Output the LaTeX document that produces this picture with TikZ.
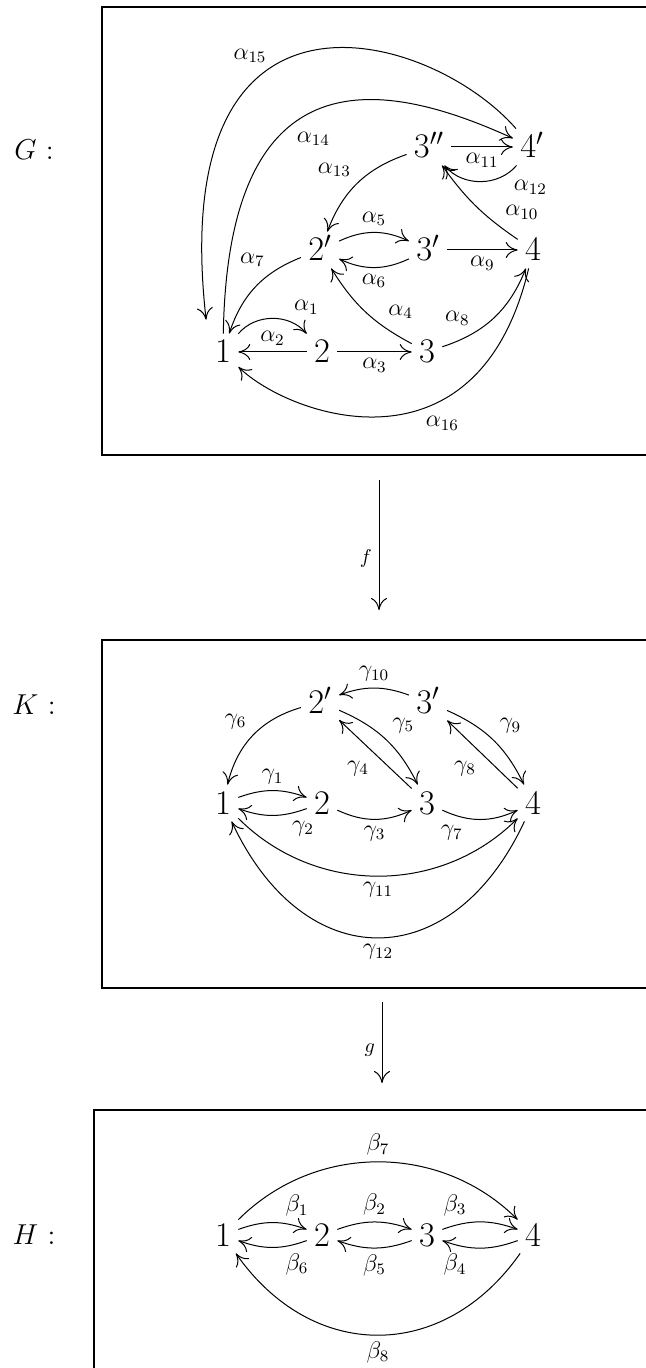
\documentclass[tikz,border=0pt]{standalone}
\usepackage{amsmath}
\usepackage{amssymb}
\usepackage{tikz}
\usetikzlibrary{arrows.meta}

\begin{document}
\begin{tikzpicture}[x=0.5pt,y=-0.5pt,
    vtx/.style={font=\LARGE, inner sep=3.5pt, text height=11pt, text depth=0pt},
    lbl/.style={font=\large, inner sep=3pt},
    side/.style={font=\Large},
    arr/.style={-{To[length=6pt,width=8pt]}, line width=0.5pt},
    frame/.style={line width=0.6pt}]
        \useasboundingbox (0,0) rectangle (646,1368);
        % G
        \draw[frame] (646,7)--(102,7)--(102,455)--(646,455);
        \node[side] (gname) at (34,150) {$G$ :};
        \node[vtx] (g1) at (223,352) {$1$};
        \node[vtx] (g2) at (322,352) {$2$};
        \node[vtx] (g3) at (427,352) {$3$};
        \node[vtx] (g4) at (533,250) {$4$};
        \node[vtx] (g2p) at (320,250) {$2'$};
        \node[vtx] (g3p) at (428,250) {$3'$};
        \node[vtx] (g3pp) at (429,147) {$3''$};
        \node[vtx] (g4p) at (532,147) {$4'$};
        \draw[arr] (g1) to[bend left=50] node[lbl,auto,pos=0.7] {$\alpha_{1}$} (g2);
        \draw[arr] (g2) -- node[lbl,above] {$\alpha_{2}$} (g1);
        \draw[arr] (g2) -- node[lbl,below] {$\alpha_{3}$} (g3);
        \draw[arr] (g3) to[bend left=15] node[lbl,auto,swap,pos=0.3] {$\alpha_{4}$} (g2p);
        \draw[arr] (g2p) to[bend left=25] node[lbl,auto] {$\alpha_{5}$} (g3p);
        \draw[arr] (g3p) to[bend left=25] node[lbl,auto] {$\alpha_{6}$} (g2p);
        \draw[arr] (g2p) to[bend right=25] node[lbl,auto,swap,pos=0.3] {$\alpha_{7}$} (g1);
        \draw[arr] (g3) to[bend right=25] node[lbl,auto,pos=0.3] {$\alpha_{8}$} (g4);
        \draw[arr] (g3p) -- node[lbl,below] {$\alpha_{9}$} (g4);
        \draw[arr] (g4) to[bend left=10] node[lbl,auto,swap,pos=0.2] {$\alpha_{10}$} (g3pp);
        \draw[arr] (g3pp) -- node[lbl,below] {$\alpha_{11}$} (g4p);
        \draw[arr] (g4p) to[bend left=50] node[lbl,auto,pos=0.15] {$\alpha_{12}$} (g3pp);
        \draw[arr] (g3pp) to[bend right=25] node[lbl,auto,swap] {$\alpha_{13}$} (g2p);
        \draw[arr] (g1) .. controls (228,50) and (385,80) .. node[lbl,auto,swap,pos=0.4] {$\alpha_{14}$} (g4p);
        \draw[arr,shorten >=7pt] (g4p) .. controls (430,30) and (165,-45) .. node[lbl,auto,swap,pos=0.6] {$\alpha_{15}$} (g1.north west);
        \draw[arr] (g4) .. controls (478,482) and (290,417) .. node[lbl,auto,pos=0.4] {$\alpha_{16}$} (g1);
        % f
        \coordinate (ftop) at (379,480);
        \coordinate (fbot) at (379,610);
        \draw[arr] (ftop) -- node[left,pos=0.6] {$f$} (fbot);
        % K
        \draw[frame] (646,640)--(102,640)--(102,988)--(646,988);
        \node[side] (kname) at (34,705) {$K$ :};
        \node[vtx] (k1) at (223,803) {$1$};
        \node[vtx] (k2) at (322,803) {$2$};
        \node[vtx] (k3) at (427,803) {$3$};
        \node[vtx] (k4) at (533,803) {$4$};
        \node[vtx] (k2p) at (320,702) {$2'$};
        \node[vtx] (k3p) at (428,702) {$3'$};
        \draw[arr] (k1) to[bend left=20] node[lbl,auto] {$\gamma_{1}$} (k2);
        \draw[arr] (k2) to[bend left=20] node[lbl,auto,pos=0.3] {$\gamma_{2}$} (k1);
        \draw[arr] (k2) to[bend right=25] node[lbl,auto,swap] {$\gamma_{3}$} (k3);
        \draw[arr] (k3) -- node[lbl,auto] {$\gamma_{4}$} (k2p);
        \draw[arr] (k2p) to[bend left=20] node[lbl,auto] {$\gamma_{5}$} (k3);
        \draw[arr] (k2p) to[bend right=30] node[lbl,auto,swap] {$\gamma_{6}$} (k1);
        \draw[arr] (k3) to[bend right=25] node[lbl,auto,swap,pos=0.35] {$\gamma_{7}$} (k4);
        \draw[arr] (k4) -- node[lbl,auto] {$\gamma_{8}$} (k3p);
        \draw[arr] (k3p) to[bend left=20] node[lbl,auto] {$\gamma_{9}$} (k4);
        \draw[arr] (k3p) to[bend right=20] node[lbl,auto,swap] {$\gamma_{10}$} (k2p);
        \draw[arr] (k1) to[out=-45,in=-135] node[lbl,auto,swap] {$\gamma_{11}$} (k4);
        \draw[arr] (k4) to[out=-115,in=-65,looseness=1.5] node[lbl,auto] {$\gamma_{12}$} (k1);
        % g
        \coordinate (gtop) at (382,1002);
        \coordinate (gbot) at (382,1083);
        \draw[arr] (gtop) -- node[left,pos=0.6] {$g$} (gbot);
        % H
        \draw[frame] (646,1110)--(94,1110)--(94,1368);
        \node[side] (hname) at (34,1235) {$H$ :};
        \node[vtx] (h1) at (223,1235) {$1$};
        \node[vtx] (h2) at (322,1235) {$2$};
        \node[vtx] (h3) at (427,1235) {$3$};
        \node[vtx] (h4) at (533,1235) {$4$};
        \draw[arr] (h1) to[bend left=20] node[lbl,auto,pos=0.6] {$\beta_{1}$} (h2);
        \draw[arr] (h2) to[bend left=20] node[lbl,auto] {$\beta_{2}$} (h3);
        \draw[arr] (h3) to[bend left=20] node[lbl,auto,pos=0.4] {$\beta_{3}$} (h4);
        \draw[arr] (h4) to[bend left=20] node[lbl,auto,pos=0.6] {$\beta_{4}$} (h3);
        \draw[arr] (h3) to[bend left=20] node[lbl,auto] {$\beta_{5}$} (h2);
        \draw[arr] (h2) to[bend left=20] node[lbl,auto,pos=0.4] {$\beta_{6}$} (h1);
        \draw[arr] (h1) to[out=45,in=135] node[lbl,auto] {$\beta_{7}$} (h4);
        \draw[arr] (h4) to[out=-125,in=-55,looseness=1.2] node[lbl,auto] {$\beta_{8}$} (h1);
      \end{tikzpicture}
\end{document}
